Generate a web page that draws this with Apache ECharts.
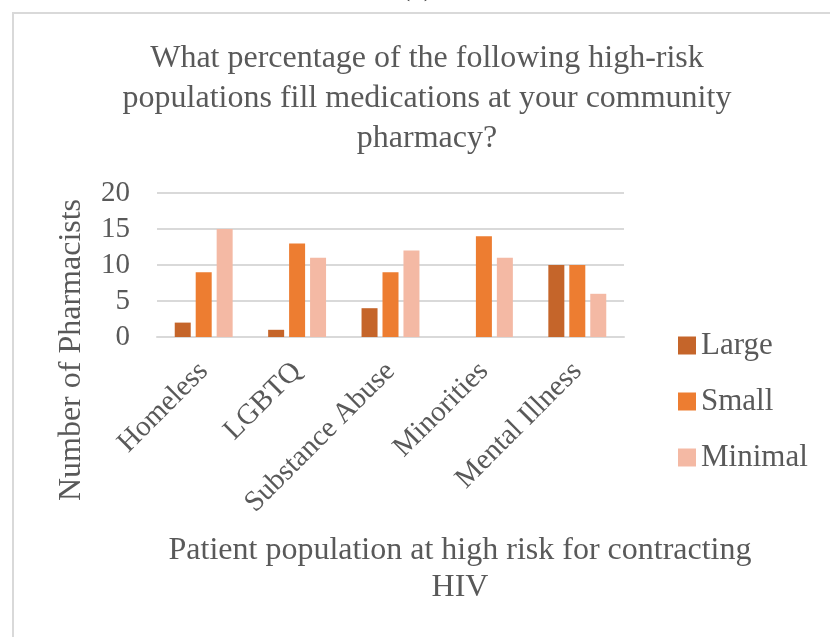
<!DOCTYPE html>
<html lang="en">
<head>
    <meta charset="UTF-8">
    <title>High-risk populations</title>
    <script src="https://cdn.jsdelivr.net/npm/echarts@6/dist/echarts.min.js"></script>
    <style>
        html, body { margin: 0; padding: 0; background: #fff; }
        #chart { width: 830px; height: 637px; }
    </style>
</head>
<body>
<div id="chart"></div>
<script>
    // data
    var categories = ['Homeless', 'LGBTQ', 'Substance Abuse', 'Minorities', 'Mental Illness']
    var large = [2, 1, 4, 0, 10]
    var small = [9, 13, 9, 14, 10]
    var minimal = [15, 11, 12, 11, 6]
    var yTicks = [0, 5, 10, 15, 20]

    var serif = 'Liberation Serif'
    var grey = '#595959'

    var myChart = echarts.init(document.getElementById('chart'))

    function bar(name, data, color) {
        return {
            name: name,
            type: 'bar',
            data: data,
            barWidth: 16,
            barGap: '31%',
            itemStyle: {color: color},
            emphasis: {disabled: true}
        }
    }

    var option = {
        animation: false,
        textStyle: {fontFamily: serif},
        grid: {left: 157, right: 206, top: 193, bottom: 300},
        legend: {
            orient: 'vertical',
            left: 673,
            top: 325,
            itemWidth: 18,
            itemHeight: 18,
            itemGap: 25,
            icon: 'rect',
            textStyle: {fontFamily: serif, fontSize: 31, color: grey},
            data: ['Large', 'Small', 'Minimal']
        },
        xAxis: {
            type: 'category',
            data: categories,
            axisLine: {lineStyle: {color: '#d9d9d9', width: 2}},
            axisTick: {show: false},
            axisLabel: {
                rotate: 45,
                margin: 30,
                interval: 0,
                fontFamily: serif,
                fontSize: 29,
                color: grey
            }
        },
        yAxis: {
            type: 'value',
            min: yTicks[0],
            max: yTicks[yTicks.length - 1],
            interval: 5,
            axisLine: {show: false},
            axisTick: {show: false},
            splitLine: {lineStyle: {color: '#d9d9d9', width: 2}},
            axisLabel: {margin: 27, fontFamily: serif, fontSize: 29, color: grey}
        },
        series: [
            bar('Large', large, '#c5652a'),
            bar('Small', small, '#ed7d31'),
            bar('Minimal', minimal, '#f4b9a4')
        ],
        graphic: [
            {
                type: 'rect',
                shape: {x: 13, y: 13, width: 840, height: 640},
                style: {fill: 'none', stroke: '#d9d9d9', lineWidth: 2},
                silent: true
            },
            {
                type: 'text',
                style: {
                    text: '(a)', x: 417, y: -13, textAlign: 'center', textVerticalAlign: 'middle',
                    font: '30px "' + serif + '"', fill: '#333'
                }
            },
            {
                type: 'text',
                style: {
                    text: 'What percentage of the following high-risk\npopulations fill medications at your community\npharmacy?',
                    x: 427, y: 39, textAlign: 'center', lineHeight: 40,
                    font: '32px "' + serif + '"', fill: grey
                }
            },
            {
                type: 'text',
                style: {
                    text: 'Patient population at high risk for contracting\nHIV',
                    x: 460, y: 532, textAlign: 'center', lineHeight: 37,
                    font: '32px "' + serif + '"', fill: grey
                }
            },
            {
                type: 'text',
                x: 72, y: 350, rotation: Math.PI / 2,
                style: {
                    text: 'Number of Pharmacists', x: 0, y: 0,
                    textAlign: 'center', textVerticalAlign: 'middle',
                    font: '32px "' + serif + '"', fill: grey
                }
            }
        ]
    }

    myChart.setOption(option)
</script>
</body>
</html>
